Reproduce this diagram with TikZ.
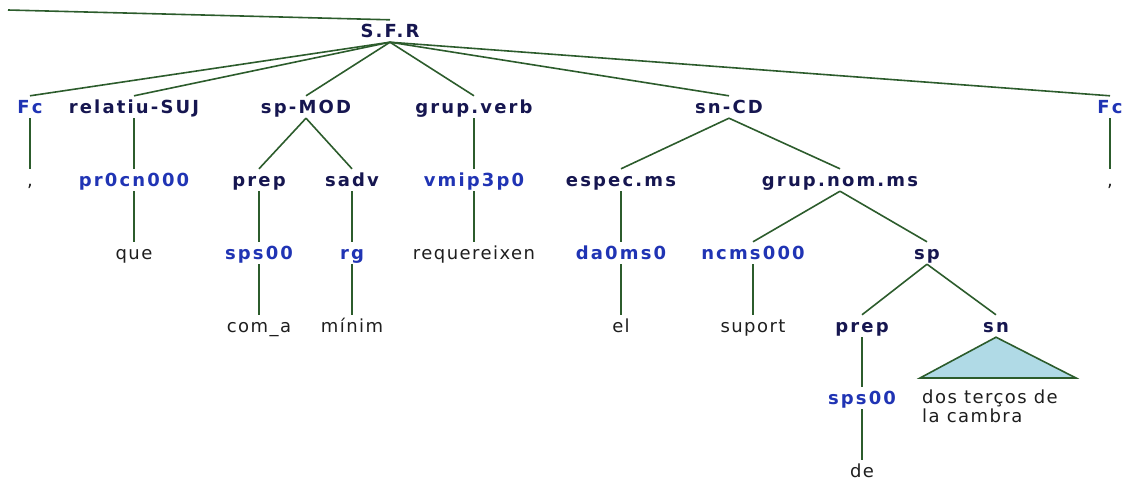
\documentclass[tikz,border=0pt]{standalone}
\usepackage{fontspec}
\newfontfamily\labfont[LetterSpace=12]{DejaVu Sans}
\newfontfamily\wordfont[LetterSpace=8]{DejaVu Sans}
\definecolor{navy}{RGB}{22,22,80}
\definecolor{posblue}{RGB}{32,52,180}
\definecolor{wordc}{RGB}{30,30,30}
\definecolor{linec}{RGB}{44,92,44}
\definecolor{trifill}{RGB}{176,218,230}
\tikzset{
  cat/.style={font=\labfont\bfseries\fontsize{18}{21}\selectfont, text=navy, anchor=base,
    inner xsep=0pt, inner ysep=5pt, text height=12pt, text depth=0pt},
  postag/.style={cat, text=posblue},
  word/.style={font=\wordfont\fontsize{18}{21}\selectfont, text=wordc, anchor=base,
    inner xsep=0pt, inner ysep=5pt, text height=12pt, text depth=0pt},
  para/.style={font=\wordfont\fontsize{18}{19}\selectfont, text=wordc, anchor=north west,
    inner sep=0pt, align=left},
  edge/.style={draw=linec, line width=1.6pt},
  tri/.style={draw=linec, line width=1.6pt, fill=trifill, line join=miter}
}
\begin{document}
\begin{tikzpicture}[x=1pt, y=-1pt]
\useasboundingbox (0,0) rectangle (1126,482);
% root
\node[cat] (sfr) at (390,37) {S.F.R};
\coordinate (top) at (8,10);
% row 1
\node[postag] (fc1) at (30,113) {Fc};
\node[cat] (rel) at (134,113) {relatiu-SUJ};
\node[cat] (spmod) at (306,113) {sp-MOD};
\node[cat] (gv) at (474,113) {grup.verb};
\node[cat] (sncd) at (729,113) {sn-CD};
\node[postag] (fc2) at (1110,113) {Fc};
% row 2
\node[word] (c1) at (30,186) {,};
\node[postag] (pr) at (134,186) {pr0cn000};
\node[cat] (prepa) at (259,186) {prep};
\node[cat] (sadv) at (352,186) {sadv};
\node[postag] (vmip) at (474,186) {vmip3p0};
\node[cat] (espec) at (621,186) {espec.ms};
\node[cat] (gnom) at (840,186) {grup.nom.ms};
\node[word] (c2) at (1110,186) {,};
% row 3
\node[word] (que) at (134,259) {que};
\node[postag] (spsa) at (259,259) {sps00};
\node[postag] (rg) at (352,259) {rg};
\node[word] (req) at (474,259) {requereixen};
\node[postag] (da) at (621,259) {da0ms0};
\node[postag] (nc) at (753,259) {ncms000};
\node[cat] (sp) at (927,259) {sp};
% row 4
\node[word] (coma) at (259,332) {com\_a};
\node[word] (minim) at (352,332) {mínim};
\node[word] (el) at (621,332) {el};
\node[word] (suport) at (753,332) {suport};
\node[cat] (prepb) at (862,332) {prep};
\node[cat] (sn) at (996,332) {sn};
% row 5, 6
\node[postag] (spsb) at (862,404) {sps00};
\node[word] (de) at (862,477) {de};
% triangle
\coordinate (tl) at (920,378);
\coordinate (tr) at (1076,378);
\draw[tri] (sn.south) -- (tr) -- (tl) -- cycle;
\node[para] (dos) at (922,390) {dos terços de\\la cambra};
% edges
\draw[edge] (top) -- (sfr.north);
\foreach \c in {fc1,rel,spmod,gv,sncd,fc2} \draw[edge] (sfr.south) -- (\c.north);
\draw[edge] (fc1.south) -- (c1.north);
\draw[edge] (rel.south) -- (pr.north);
\draw[edge] (spmod.south) -- (prepa.north);
\draw[edge] (spmod.south) -- (sadv.north);
\draw[edge] (gv.south) -- (vmip.north);
\draw[edge] (sncd.south) -- (espec.north);
\draw[edge] (sncd.south) -- (gnom.north);
\draw[edge] (fc2.south) -- (c2.north);
\draw[edge] (pr.south) -- (que.north);
\draw[edge] (prepa.south) -- (spsa.north);
\draw[edge] (sadv.south) -- (rg.north);
\draw[edge] (vmip.south) -- (req.north);
\draw[edge] (espec.south) -- (da.north);
\draw[edge] (gnom.south) -- (nc.north);
\draw[edge] (gnom.south) -- (sp.north);
\draw[edge] (spsa.south) -- (coma.north);
\draw[edge] (rg.south) -- (minim.north);
\draw[edge] (da.south) -- (el.north);
\draw[edge] (nc.south) -- (suport.north);
\draw[edge] (sp.south) -- (prepb.north);
\draw[edge] (sp.south) -- (sn.north);
\draw[edge] (prepb.south) -- (spsb.north);
\draw[edge] (spsb.south) -- (de.north);
\end{tikzpicture}
\end{document}
